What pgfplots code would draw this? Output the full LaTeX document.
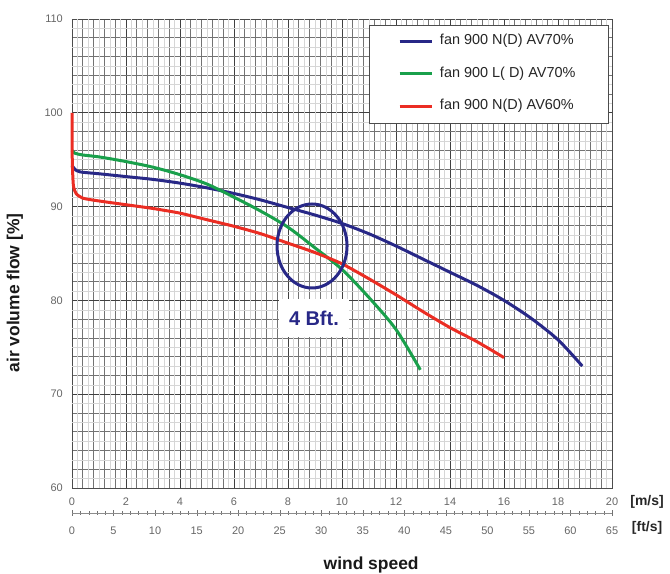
\documentclass[border=0pt]{standalone}
\usepackage{fontspec}
\setmainfont{Liberation Sans}
\usepackage{pgfplots}
\pgfplotsset{compat=1.18}

\definecolor{cblue}{RGB}{40,40,135}
\definecolor{cgreen}{RGB}{25,160,75}
\definecolor{cred}{RGB}{235,45,35}

\begin{document}
\begin{tikzpicture}
\begin{axis}[
    scale only axis, width=540bp, height=469bp,
    xmin=0, xmax=20, ymin=60, ymax=110,
    xtick distance=2, minor x tick num=4,
    ytick distance=10, minor y tick num=4,
    grid=both,
    major grid style={black!75, line width=0.9bp},
    minor grid style={black!55, line width=0.65bp},
    axis line style={black!70},
    major tick length=0pt, minor tick length=0pt,
    /pgf/number format/assume math mode=true,
    tick label style={font=\fontsize{11}{11}\selectfont, text=black!60, inner sep=0pt},
    xticklabel style={anchor=center, yshift=-14bp},
    yticklabel style={anchor=east, xshift=-9bp},
    legend style={at={(axis cs:11,109.4)}, anchor=north west, draw=black!70, fill=white,
        font=\fontsize{14.5}{14.5}\selectfont, text=black!85,
        inner xsep=29bp, inner ysep=8bp, row sep=15.5bp,
        nodes={text height=10bp, text depth=3bp}},
    legend cell align=left,
    legend image code/.code={\draw[#1, line width=2.8bp] (0bp,0bp) -- (32bp,0bp);},
    clip=false,
]
% light in-between grid lines
\pgfplotsinvokeforeach{0.2,0.6,...,19.8}{\draw[black!16, line width=0.4bp] (axis cs:#1,60) -- (axis cs:#1,110);}
\pgfplotsinvokeforeach{61,63,...,109}{\draw[black!16, line width=0.4bp] (axis cs:0,#1) -- (axis cs:20,#1);}

\addplot[cblue, line width=3bp, smooth, tension=0.5] coordinates {
(0,94.4)(0.1,94.0)(0.3,93.7)(1,93.5)(2,93.2)(3,92.9)(4,92.5)(5,92.0)(6,91.4)(7,90.7)
(8,89.9)(9,89.1)(10,88.2)(11,87.1)(12,85.8)(13,84.4)(14,83.0)(15,81.6)(16,80.0)
(17,78.1)(18,75.8)(18.9,73.0)};
\addlegendentry{\hspace{5bp}\makebox[137bp][l]{fan 900 N(D) AV70\%}}
\addplot[cgreen, line width=3bp, smooth, tension=0.5] coordinates {
(0,96.0)(0.1,95.7)(0.4,95.5)(1,95.3)(2,94.8)(3,94.2)(4,93.4)(5,92.4)(6,91.0)(7,89.5)
(8,87.8)(9,85.6)(10,83.3)(11,80.3)(12,76.9)(12.9,72.6)};
\addlegendentry{\hspace{5bp}\makebox[137bp][l]{fan 900 L( D) AV70\%}}
\addplot[cred, line width=3bp, smooth, tension=0.4] coordinates {
(0,100)(0.01,95)(0.05,92.3)(0.15,91.4)(0.4,90.9)(1,90.6)(2,90.2)(3,89.8)(4,89.3)(5,88.6)
(6,87.9)(7,87.1)(8,86.1)(9,85.1)(10,83.9)(11,82.3)(12,80.6)(13,78.8)(14,77.1)
(15,75.6)(16,73.9)};
\addlegendentry{\hspace{5bp}\makebox[137bp][l]{fan 900 N(D) AV60\%}}

\draw[cblue, line width=3bp] (axis cs:8.89,85.8) ellipse [x radius=35bp, y radius=42bp];
\node[fill=white, minimum width=70bp, minimum height=38bp, inner sep=0pt,
      font=\fontsize{20}{20}\selectfont\bfseries, text=cblue]
      at (axis cs:8.96,78.1) {4 Bft.};

\node[rotate=90, font=\fontsize{17.5}{17.5}\selectfont\bfseries, text=black!90]
      at (axis description cs:-0.1056,0.4158) {air volume flow [\%]};
\node[anchor=base, font=\fontsize{17.5}{17.5}\selectfont\bfseries, text=black!90]
      at (axis description cs:0.554,-0.1748) {wind speed};
\node[font=\fontsize{14}{14}\selectfont\bfseries, text=black!85]
      at (axis description cs:1.065,-0.0299) {[m/s]};
\node[font=\fontsize{14}{14}\selectfont\bfseries, text=black!85]
      at (axis description cs:1.065,-0.0853) {[ft/s]};
\end{axis}

\begin{axis}[
    at={(0bp,-25bp)}, anchor=south west,
    scale only axis, width=540bp, height=10bp,
    xmin=0, xmax=65, ymin=0, ymax=1,
    axis x line*=bottom, axis y line=none,
    xtick distance=5, minor x tick num=4,
    tick align=center, major tick length=5bp, minor tick length=3bp,
    axis line style={black!45}, tick style={black!55},
    /pgf/number format/assume math mode=true,
    tick label style={font=\fontsize{11}{11}\selectfont, text=black!60, inner sep=0pt},
    xticklabel style={anchor=center, yshift=-15bp},
]
\end{axis}
\pgfresetboundingbox
\useasboundingbox (-72bp,-86bp) rectangle (598bp,488bp);
\end{tikzpicture}
\end{document}
